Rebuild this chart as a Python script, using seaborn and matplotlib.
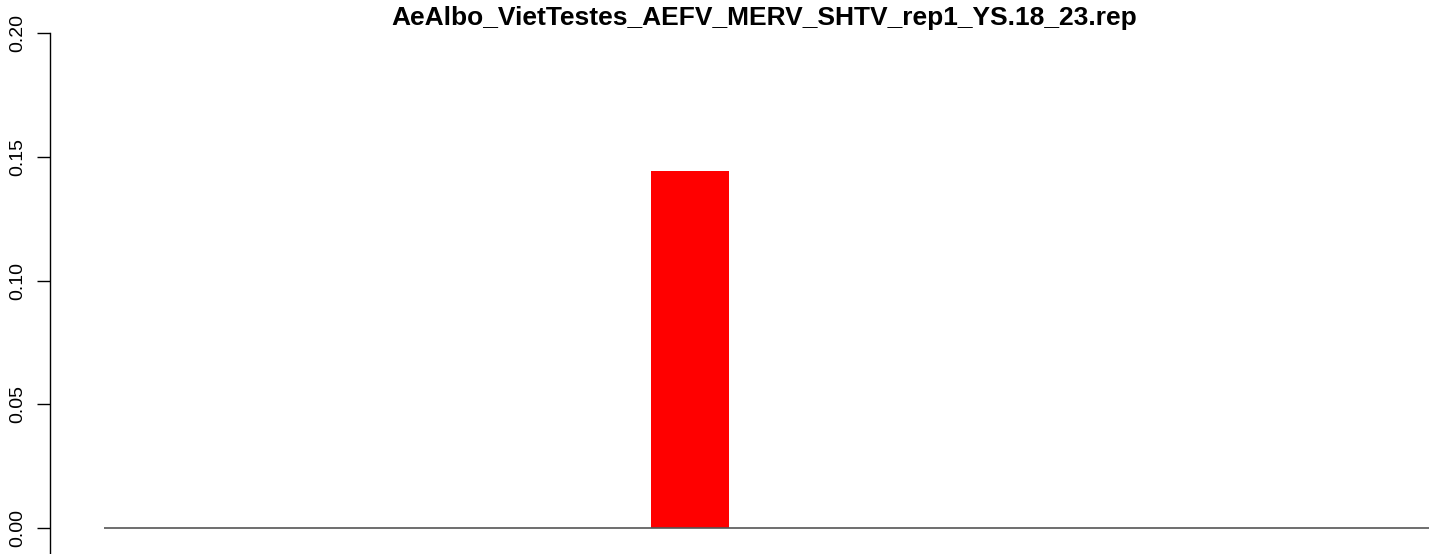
import numpy as np
import pandas as pd
import matplotlib
matplotlib.use("Agg")
import matplotlib.pyplot as plt
import seaborn as sns

# read lengths 18..23, frequency of reads
lengths = ["18", "19", "20", "21", "22", "23"]
freq = [0.0, 0.0, 0.1442, 0.0, 0.0, 0.0]
title = "AeAlbo_VietTestes_AEFV_MERV_SHTV_rep1_YS.18_23.rep"

sns.set_theme(style="white")
plt.rcParams['font.family'] = ['Liberation Sans', 'DejaVu Sans']

W, H = 1429, 554
fig = plt.figure(figsize=(W / 100, H / 100), dpi=100)

# axes in pixel terms: plot region starts at x=104, y=0.2 at 33px, 0 at 528px
px_per_unit = 495 / 0.2
ax_top = 33
ax_h = 0.4 * px_per_unit
ax_left = 104
ax_w = 6 * 234.4
ax = fig.add_axes([ax_left / W, 1 - (ax_top + ax_h) / H, ax_w / W, ax_h / H])

df = pd.DataFrame({"length": lengths, "freq": freq})
sns.barplot(data=df, x="length", y="freq", color="#FF0000", width=0.333,
            saturation=1, ax=ax, edgecolor="none", linewidth=0)

ax.axhline(0, color="#555555", lw=1.2, zorder=3)
ax.set_xlim(-0.5, 5.5)
ax.set_ylim(-0.2, 0.2)
ax.set_xticks([])
ax.set_xlabel("")
ax.set_ylabel("")
for s in ["top", "right", "bottom"]:
    ax.spines[s].set_visible(False)
ax.spines["left"].set_position(("outward", 54 * 0.72))
ax.spines["left"].set_color("black")
ax.spines["left"].set_linewidth(1.0)
ax.spines["left"].set_bounds(-0.2, 0.2)
ax.tick_params(axis="y", left=True, length=9.4, width=1.0, color="black",
               pad=8, labelcolor="black", labelrotation=90, labelsize=14)
ax.set_yticks([0.0, 0.05, 0.1, 0.15, 0.2])
ax.set_yticklabels([f"{v:.2f}" for v in ax.get_yticks()], fontsize=14,
                   rotation=90, va="center")

fig.text(764 / W, 1 - 18 / H, title, ha="center", va="center",
         fontsize=19, fontweight="bold", color="black")

fig.savefig("out.png", dpi=100)
